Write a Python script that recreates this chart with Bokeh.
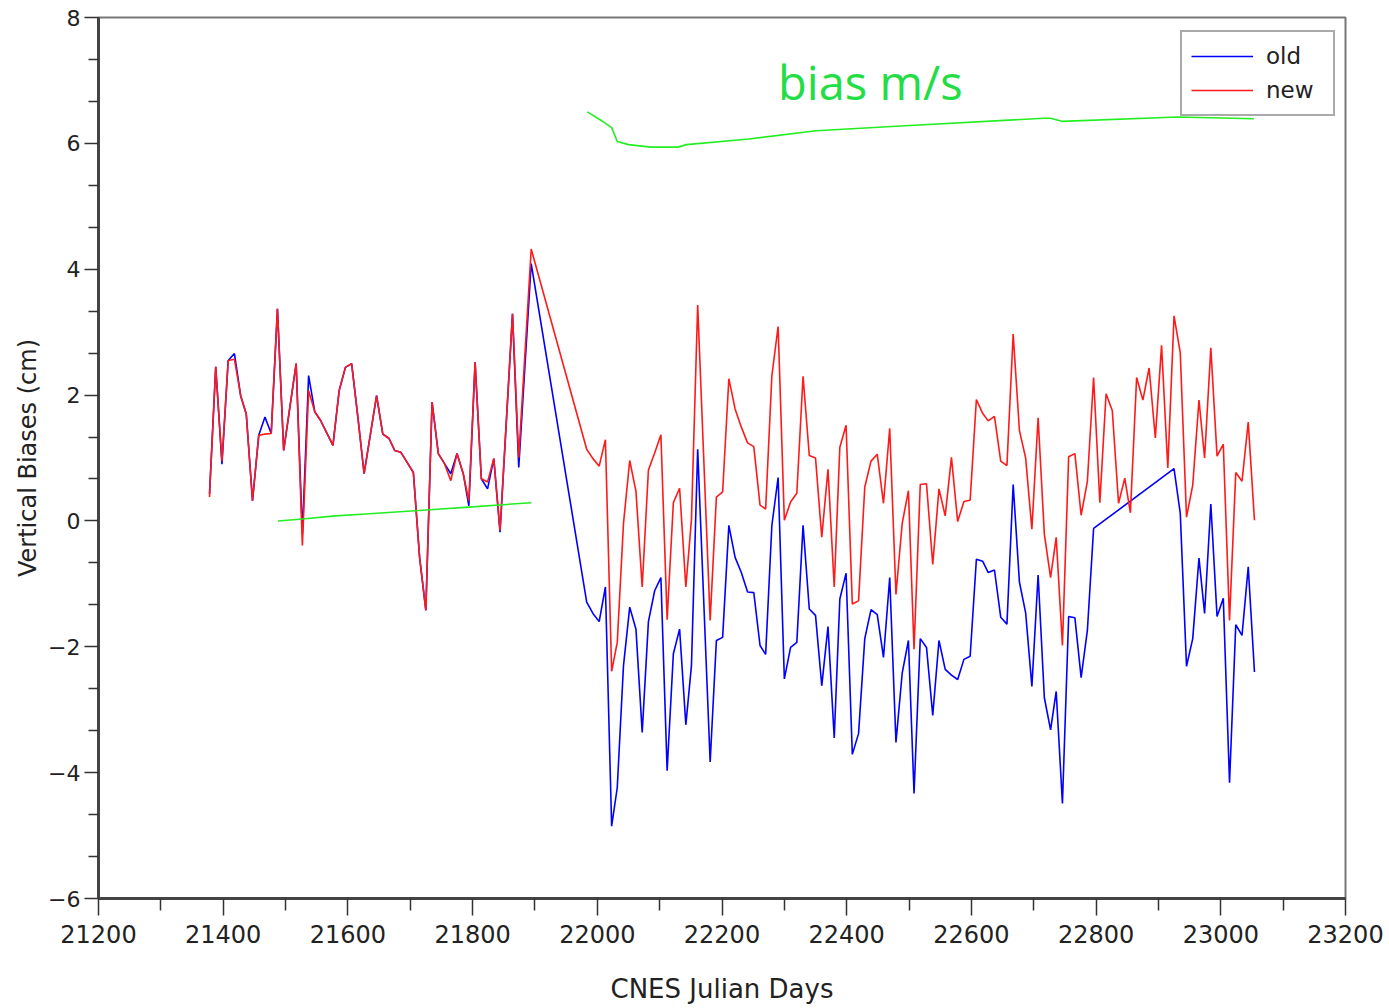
from bokeh.plotting import figure
from bokeh.models import Range1d, FixedTicker, Legend, LegendItem
from bokeh.core.properties import value
from bokeh.embed import file_html
from bokeh.resources import INLINE

# Vertical biases (cm) per cycle, CNES Julian days
days_old = [21378, 21388, 21398, 21408, 21418, 21428, 21437, 21447, 21457, 21467,
            21477, 21487, 21497, 21517, 21527, 21537, 21547, 21556, 21576, 21586,
            21596, 21606, 21616, 21626, 21646, 21656, 21666, 21675, 21685, 21695,
            21705, 21715, 21725, 21735, 21745, 21755, 21765, 21775, 21785, 21794,
            21804, 21814, 21824, 21834, 21844, 21864, 21874, 21894,
            21983, 21993, 22003, 22013, 22023, 22032, 22042, 22052, 22062, 22072,
            22082, 22092, 22102, 22112, 22122, 22132, 22142, 22151, 22161, 22181,
            22191, 22201, 22211, 22221, 22231, 22241, 22251, 22261, 22270, 22280,
            22290, 22300, 22310, 22320, 22330, 22340, 22350, 22360, 22370, 22380,
            22389, 22399, 22409, 22419, 22429, 22439, 22449, 22459, 22469, 22479,
            22489, 22499, 22508, 22518, 22528, 22538, 22548, 22558, 22568, 22578,
            22588, 22598, 22608, 22618, 22627, 22637, 22647, 22657, 22667, 22677,
            22687, 22697, 22707, 22717, 22727, 22736, 22746, 22756, 22766, 22776,
            22786, 22796,
            22925, 22935, 22945, 22955, 22965, 22974, 22984, 22994, 23004, 23014,
            23024, 23034, 23044, 23054]
bias_old = [0.43, 2.45, 0.90, 2.55, 2.66, 1.99, 1.70, 0.32, 1.36, 1.65,
            1.39, 3.37, 1.12, 2.50, -0.20, 2.31, 1.73, 1.60, 1.20, 2.07,
            2.44, 2.50, 1.65, 0.75, 1.99, 1.38, 1.31, 1.12, 1.09, 0.93,
            0.77, -0.58, -1.42, 1.89, 1.07, 0.91, 0.75, 1.07, 0.75, 0.24,
            2.52, 0.67, 0.51, 0.99, -0.18, 3.29, 0.85, 4.09,
            -1.29, -1.47, -1.60, -1.05, -4.85, -4.24, -2.30, -1.37, -1.72, -3.36,
            -1.60, -1.11, -0.90, -3.97, -2.11, -1.72, -3.24, -2.30, 1.14, -3.83,
            -1.90, -1.85, -0.07, -0.58, -0.82, -1.13, -1.14, -1.98, -2.12, -0.07,
            0.69, -2.51, -2.01, -1.93, -0.07, -1.40, -1.50, -2.62, -1.68, -3.45,
            -1.24, -0.83, -3.71, -3.38, -1.87, -1.41, -1.49, -2.17, -0.90, -3.52,
            -2.42, -1.90, -4.33, -1.87, -2.01, -3.09, -1.90, -2.36, -2.45, -2.52,
            -2.20, -2.15, -0.61, -0.64, -0.82, -0.78, -1.53, -1.64, 0.58, -0.97,
            -1.46, -2.63, -0.86, -2.81, -3.32, -2.71, -4.49, -1.52, -1.54, -2.49,
            -1.74, -0.12,
            0.83, 0.12, -2.31, -1.87, -0.59, -1.47, 0.27, -1.52, -1.23, -4.16,
            -1.65, -1.82, -0.73, -2.40]

days_new = [21378, 21388, 21398, 21408, 21418, 21428, 21437, 21447, 21457, 21467,
            21477, 21487, 21497, 21517, 21527, 21537, 21547, 21556, 21576, 21586,
            21596, 21606, 21616, 21626, 21646, 21656, 21666, 21675, 21685, 21695,
            21705, 21715, 21725, 21735, 21745, 21755, 21765, 21775, 21785, 21794,
            21804, 21814, 21824, 21834, 21844, 21864, 21874, 21894,
            21983, 21993, 22003, 22013, 22023, 22032, 22042, 22052, 22062, 22072,
            22082, 22092, 22102, 22112, 22122, 22132, 22142, 22151, 22161, 22181,
            22191, 22201, 22211, 22221, 22231, 22241, 22251, 22261, 22270, 22280,
            22290, 22300, 22310, 22320, 22330, 22340, 22350, 22360, 22370, 22380,
            22389, 22399, 22409, 22419, 22429, 22439, 22449, 22459, 22469, 22479,
            22489, 22499, 22508, 22518, 22528, 22538, 22548, 22558, 22568, 22578,
            22588, 22598, 22608, 22618, 22627, 22637, 22647, 22657, 22667, 22677,
            22687, 22697, 22707, 22717, 22727, 22736, 22746, 22756, 22766, 22776,
            22786, 22796, 22806, 22816, 22826, 22836, 22846, 22855, 22865, 22875,
            22885, 22895, 22905, 22915, 22925, 22935, 22945, 22955, 22965, 22974,
            22984, 22994, 23004, 23014, 23024, 23034, 23044, 23054]
bias_new = [0.38, 2.45, 0.95, 2.55, 2.57, 1.99, 1.70, 0.32, 1.36, 1.38,
            1.39, 3.37, 1.12, 2.50, -0.39, 2.07, 1.73, 1.60, 1.20, 2.07,
            2.44, 2.50, 1.65, 0.75, 1.99, 1.38, 1.31, 1.12, 1.09, 0.93,
            0.77, -0.58, -1.42, 1.89, 1.07, 0.91, 0.64, 1.07, 0.75, 0.32,
            2.52, 0.67, 0.62, 0.99, -0.15, 3.29, 1.01, 4.32,
            1.14, 0.99, 0.87, 1.29, -2.39, -1.93, -0.04, 0.96, 0.47, -1.05,
            0.81, 1.08, 1.37, -1.57, 0.29, 0.52, -1.05, 0.02, 3.43, -1.58,
            0.38, 0.46, 2.26, 1.78, 1.49, 1.24, 1.18, 0.25, 0.19, 2.31,
            3.09, 0.01, 0.30, 0.44, 2.30, 1.04, 1.00, -0.26, 0.82, -1.05,
            1.17, 1.52, -1.32, -1.27, 0.54, 0.95, 1.06, 0.28, 1.47, -1.17,
            -0.04, 0.48, -2.04, 0.58, 0.59, -0.69, 0.51, 0.08, 1.01, -0.01,
            0.31, 0.33, 1.93, 1.71, 1.59, 1.66, 0.95, 0.88, 2.97, 1.44,
            1.00, -0.13, 1.64, -0.21, -0.90, -0.26, -1.98, 1.02, 1.07, 0.09,
            0.63, 2.28, 0.29, 2.02, 1.75, 0.28, 0.68, 0.13, 2.28, 1.92,
            2.43, 1.32, 2.79, 0.84, 3.26, 2.67, 0.06, 0.57, 1.92, 1.00,
            2.75, 1.03, 1.22, -1.58, 0.77, 0.63, 1.57, 0.01]

# Hand-drawn "bias m/s" traces
trend_low_days = [21488, 21527, 21580, 21628, 21714, 21794, 21894]
trend_low_vals = [0.00, 0.03, 0.08, 0.11, 0.165, 0.22, 0.29]
trend_high_days = [21984, 22007, 22023, 22032, 22050, 22086, 22129, 22143,
                   22243, 22351, 22494, 22716, 22727, 22745, 22931, 23053]
trend_high_vals = [6.50, 6.36, 6.25, 6.03, 5.98, 5.94, 5.94, 5.98,
                   6.07, 6.20, 6.28, 6.40, 6.40, 6.35, 6.42, 6.39]

x_major = [21200, 21400, 21600, 21800, 22000, 22200, 22400, 22600, 22800, 23000, 23200]
x_minor = [21300, 21500, 21700, 21900, 22100, 22300, 22500, 22700, 22900, 23100]
y_major = [-6, -4, -2, 0, 2, 4, 6, 8]
y_minor = [-5.3333, -4.6667, -3.3333, -2.6667, -1.3333, -0.6667, 0.6667, 1.3333,
           2.6667, 3.3333, 4.6667, 5.3333, 6.6667, 7.3333]

FONT = "DejaVu Sans"

p = figure(width=1389, height=1008, output_backend="svg", toolbar_location=None,
           x_range=Range1d(21200, 23200), y_range=Range1d(-6, 8),
           min_border_left=98, min_border_right=44, min_border_top=17, min_border_bottom=110)
p.background_fill_color = "white"
p.border_fill_color = "white"
p.xgrid.visible = False
p.ygrid.visible = False
p.outline_line_color = "#777777"
p.outline_line_width = 2

for ax in (p.xaxis[0], p.yaxis[0]):
    ax.axis_line_color = "#444444"
    ax.axis_line_width = 3
    ax.major_tick_line_color = "#333333"
    ax.minor_tick_line_color = "#333333"
    ax.major_tick_line_width = 1.5
    ax.minor_tick_line_width = 1.5
    ax.major_tick_in = 0
    ax.minor_tick_in = 0
    ax.major_label_text_font = FONT
    ax.major_label_text_color = "#222222"
    ax.axis_label_text_font = FONT
    ax.axis_label_text_font_style = "normal"
    ax.axis_label_text_color = "#222222"

xa = p.xaxis[0]
xa.ticker = FixedTicker(ticks=x_major, minor_ticks=x_minor)
xa.major_tick_out = 17
xa.minor_tick_out = 12
xa.major_label_text_font_size = "24px"
xa.major_label_standoff = 9
xa.axis_label = "CNES Julian Days"
xa.axis_label_text_font_size = "26px"
xa.axis_label_standoff = 28

ya = p.yaxis[0]
ya.ticker = FixedTicker(ticks=y_major, minor_ticks=y_minor)
ya.major_tick_out = 14
ya.minor_tick_out = 10
ya.major_label_text_font_size = "22px"
ya.major_label_standoff = 4
ya.major_label_overrides = {v: str(v).replace("-", "\u2212") for v in y_major}
ya.axis_label = "Vertical Biases (cm)"
ya.axis_label_text_font_size = "24px"
ya.axis_label_standoff = 3

r_old = p.line(days_old, bias_old, line_color="#0000ff", line_width=1.6)
r_new = p.line(days_new, bias_new, line_color="#ff1a1a", line_width=1.6)

p.line(trend_low_days, trend_low_vals, line_color="#22ee22", line_width=1.6)
p.line(trend_high_days, trend_high_vals, line_color="#22ee22", line_width=1.6)
p.text(x=[22290], y=[6.98], text=["bias m/s"], text_color="#22dd44",
       text_font=value("Open Sans"), text_font_size="47px",
       text_align="left", text_baseline="alphabetic")

legend = Legend(items=[LegendItem(label="old", renderers=[r_old]),
                       LegendItem(label="new", renderers=[r_new])],
                location=(1082, 782))
legend.label_text_font = FONT
legend.label_text_font_size = "23px"
legend.label_text_color = "#222222"
legend.glyph_width = 62
legend.glyph_height = 30
legend.label_height = 30
legend.label_width = 58
legend.label_standoff = 13
legend.spacing = 4
legend.padding = 9
legend.margin = 0
legend.border_line_color = "#555555"
legend.border_line_width = 2
legend.background_fill_color = "white"
legend.background_fill_alpha = 1.0
p.add_layout(legend, "center")

open("out.html", "w").write(file_html(p, INLINE))
